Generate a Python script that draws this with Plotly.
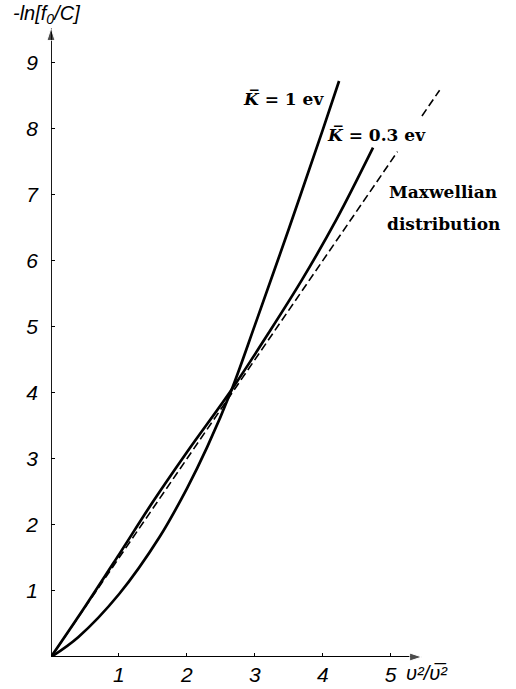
import plotly.graph_objects as go

# ---- data ----
k1_x = [0, 0.4, 1.0, 1.6, 2.0, 2.3, 2.66, 3.0, 3.5, 4.0, 4.24]
k1_y = [0, 0.3, 0.95, 1.82, 2.55, 3.18, 4.05, 5.02, 6.48, 7.98, 8.72]

k03_x = [0, 0.5, 1.0, 1.5, 2.0, 2.66, 3.2, 3.7, 4.2, 4.74]
k03_y = [0, 0.76, 1.55, 2.35, 3.1, 4.05, 4.9, 5.72, 6.62, 7.71]

maxw_x = [0, 5.1, None, 5.46, 5.72]
maxw_y = [0, 7.65, None, 8.19, 8.58]

x_ticks = [1, 2, 3, 4, 5]
y_ticks = [1, 2, 3, 4, 5, 6, 7, 8, 9]

x_axis_end = 5.46
y_axis_end = 9.52

fig = go.Figure()

# axes drawn as arrows
fig.add_trace(go.Scatter(x=[0, x_axis_end], y=[0, 0], mode="lines+markers",
                         line=dict(color="black", width=1.8),
                         marker=dict(symbol="arrow", size=[0, 13], angleref="previous", color="black"),
                         cliponaxis=False, showlegend=False, hoverinfo="skip"))
fig.add_trace(go.Scatter(x=[0, 0], y=[0, y_axis_end], mode="lines+markers",
                         line=dict(color="black", width=1.8),
                         marker=dict(symbol="arrow", size=[0, 13], angleref="previous", color="black"),
                         cliponaxis=False, showlegend=False, hoverinfo="skip"))

fig.add_trace(go.Scatter(x=k1_x, y=k1_y, mode="lines", line=dict(color="black", width=2.7, shape="spline"),
                         showlegend=False, hoverinfo="skip"))
fig.add_trace(go.Scatter(x=k03_x, y=k03_y, mode="lines", line=dict(color="black", width=2.7, shape="spline"),
                         showlegend=False, hoverinfo="skip"))
fig.add_trace(go.Scatter(x=maxw_x, y=maxw_y, mode="lines", line=dict(color="black", width=1.6, dash="8px,4px"),
                         showlegend=False, hoverinfo="skip", connectgaps=False))

tickfont = dict(family="Liberation Sans", size=21, color="black", style="italic")

fig.update_layout(
    width=516, height=689,
    margin=dict(l=51, r=3, t=3, b=28),
    paper_bgcolor="white", plot_bgcolor="white",
    xaxis=dict(range=[0, 6.8], tickvals=x_ticks, ticktext=[str(v) for v in x_ticks],
               ticks="inside", ticklen=4, tickwidth=1.2, tickcolor="black",
               showline=False, showgrid=False, zeroline=False, tickfont=tickfont,
               ticklabelstandoff=3),
    yaxis=dict(range=[0, 9.9], tickvals=y_ticks, ticktext=[str(v) for v in y_ticks],
               ticks="inside", ticklen=4, tickwidth=1.2, tickcolor="black",
               showline=False, showgrid=False, zeroline=False, tickfont=tickfont,
               ticklabelstandoff=12),
)

# axis titles (paper coordinates so they are not clipped)
axfont = dict(family="Liberation Sans", size=20, color="black", style="italic")
fig.add_annotation(x=0.763, y=-0.024, xref="paper", yref="paper", xanchor="left", yanchor="middle",
                   showarrow=False, text="υ²/υ\u0305²", font=axfont)
fig.add_annotation(x=-0.087, y=0.982, xref="paper", yref="paper", xanchor="left", yanchor="middle",
                   showarrow=False, text="-ln[f<sub>0</sub>/C]", font=axfont)

labfont = dict(family="DejaVu Serif", size=17, color="black", weight="bold")
fig.add_annotation(x=2.8, y=8.44, xref="x", yref="y", xanchor="left", yanchor="middle", showarrow=False,
                   text="<i>K\u0305</i> = 1 ev", font=labfont)
fig.add_annotation(x=4.03, y=7.9, xref="x", yref="y", xanchor="left", yanchor="middle", showarrow=False,
                   text="<i>K\u0305</i> = 0.3 ev", font=labfont)
fig.add_annotation(x=4.94, y=7.04, xref="x", yref="y", xanchor="left", yanchor="middle", showarrow=False,
                   text="Maxwellian", font=labfont)
fig.add_annotation(x=4.91, y=6.56, xref="x", yref="y", xanchor="left", yanchor="middle", showarrow=False,
                   text="distribution", font=labfont)

fig.write_html("out.html")
